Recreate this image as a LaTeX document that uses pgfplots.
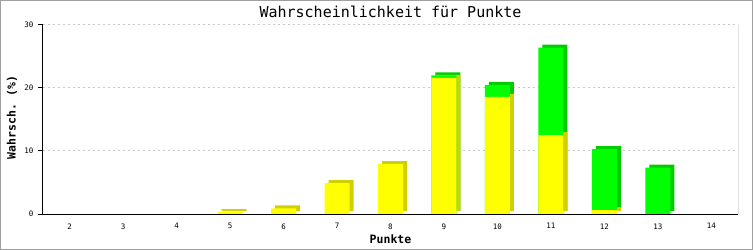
\documentclass[border=0pt]{standalone}
\usepackage{pgfplots}
\pgfplotsset{compat=1.18}
\usepackage{fontspec}
\setmonofont{DejaVu Sans Mono}
\definecolor{yelF}{HTML}{FFFF00}
\definecolor{yelD}{HTML}{D0D000}
\definecolor{grnF}{HTML}{00FF00}
\definecolor{grnD}{HTML}{00CC00}
\definecolor{gridc}{HTML}{C8C8C8}
\definecolor{framec}{HTML}{A0A0A0}
\begin{document}
\begin{tikzpicture}
\begin{axis}[
  name=ax, at={(0,0)}, anchor=south west,
  scale only axis, width=695bp, height=189bp,
  xmin=1.5, xmax=14.5, ymin=0, ymax=30,
  xtick={2,3,4,5,6,7,8,9,10,11,12,13,14},
  ytick={0,10,20,30},
  axis x line=bottom, axis y line=left,
  axis line style={-, line width=1bp, black},
  ybar, bar width=25bp, bar shift=0pt,
  ymajorgrids,
  grid style={gridc, line width=1bp, dash pattern=on 2bp off 3bp},
  tick align=outside, major tick length=5bp,
  tick style={black, line width=1bp},
  xtick style={draw=none},
  /pgf/number format/assume math mode=true,
  tick label style={font=\fontsize{7.5bp}{9bp}\ttfamily},
  yticklabel style={xshift=-1bp},
  xticklabel style={yshift=-1bp},
  title={Wahrscheinlichkeit f\"ur Punkte},
  every axis title/.style={font=\fontsize{15bp}{18bp}\ttfamily, at={(axis description cs:0.5,1)}, anchor=center, yshift=13bp},
  xlabel={Punkte},
  ylabel={Wahrsch. (\%)},
  every axis x label/.style={font=\fontsize{11.5bp}{14bp}\ttfamily\bfseries, at={(axis description cs:0.5,0)}, anchor=center, yshift=-25bp},
  every axis y label/.style={font=\fontsize{11.5bp}{14bp}\ttfamily\bfseries, at={(axis description cs:-0.0446,0.51)}, anchor=center, rotate=90},
]
% shadows (3D side/top faces)
\addplot[fill=grnD, draw=none, xshift=4bp, yshift=3bp] coordinates {(9,22.0) (10,20.5) (11,26.4) (12,10.3) (13,7.35)};
\addplot[fill=yelD, draw=none, xshift=4bp, yshift=3bp] coordinates {(5,0.3) (6,0.9) (7,4.9) (8,7.9) (9,21.6) (10,18.6) (11,12.5) (12,0.6)};
% front faces
\addplot[fill=grnF, draw=none] coordinates {(9,22.0) (10,20.5) (11,26.4) (12,10.3) (13,7.35)};
\addplot[fill=yelF, draw=none] coordinates {(5,0.3) (6,0.9) (7,4.9) (8,7.9) (9,21.6) (10,18.6) (11,12.5) (12,0.6)};
\draw[line width=1bp, black] (rel axis cs:1,0) -- (rel axis cs:1,1);
\draw[line width=1bp, black] (rel axis cs:0,0) -- (rel axis cs:1,0);
\end{axis}
\useasboundingbox ([xshift=-43bp,yshift=-36bp]ax.south west) rectangle ([xshift=15bp,yshift=25bp]ax.north east);
\draw[framec, line width=1bp] ([xshift=-42.5bp,yshift=-35.5bp]ax.south west) rectangle ([xshift=14.5bp,yshift=24.5bp]ax.north east);
\end{tikzpicture}
\end{document}
